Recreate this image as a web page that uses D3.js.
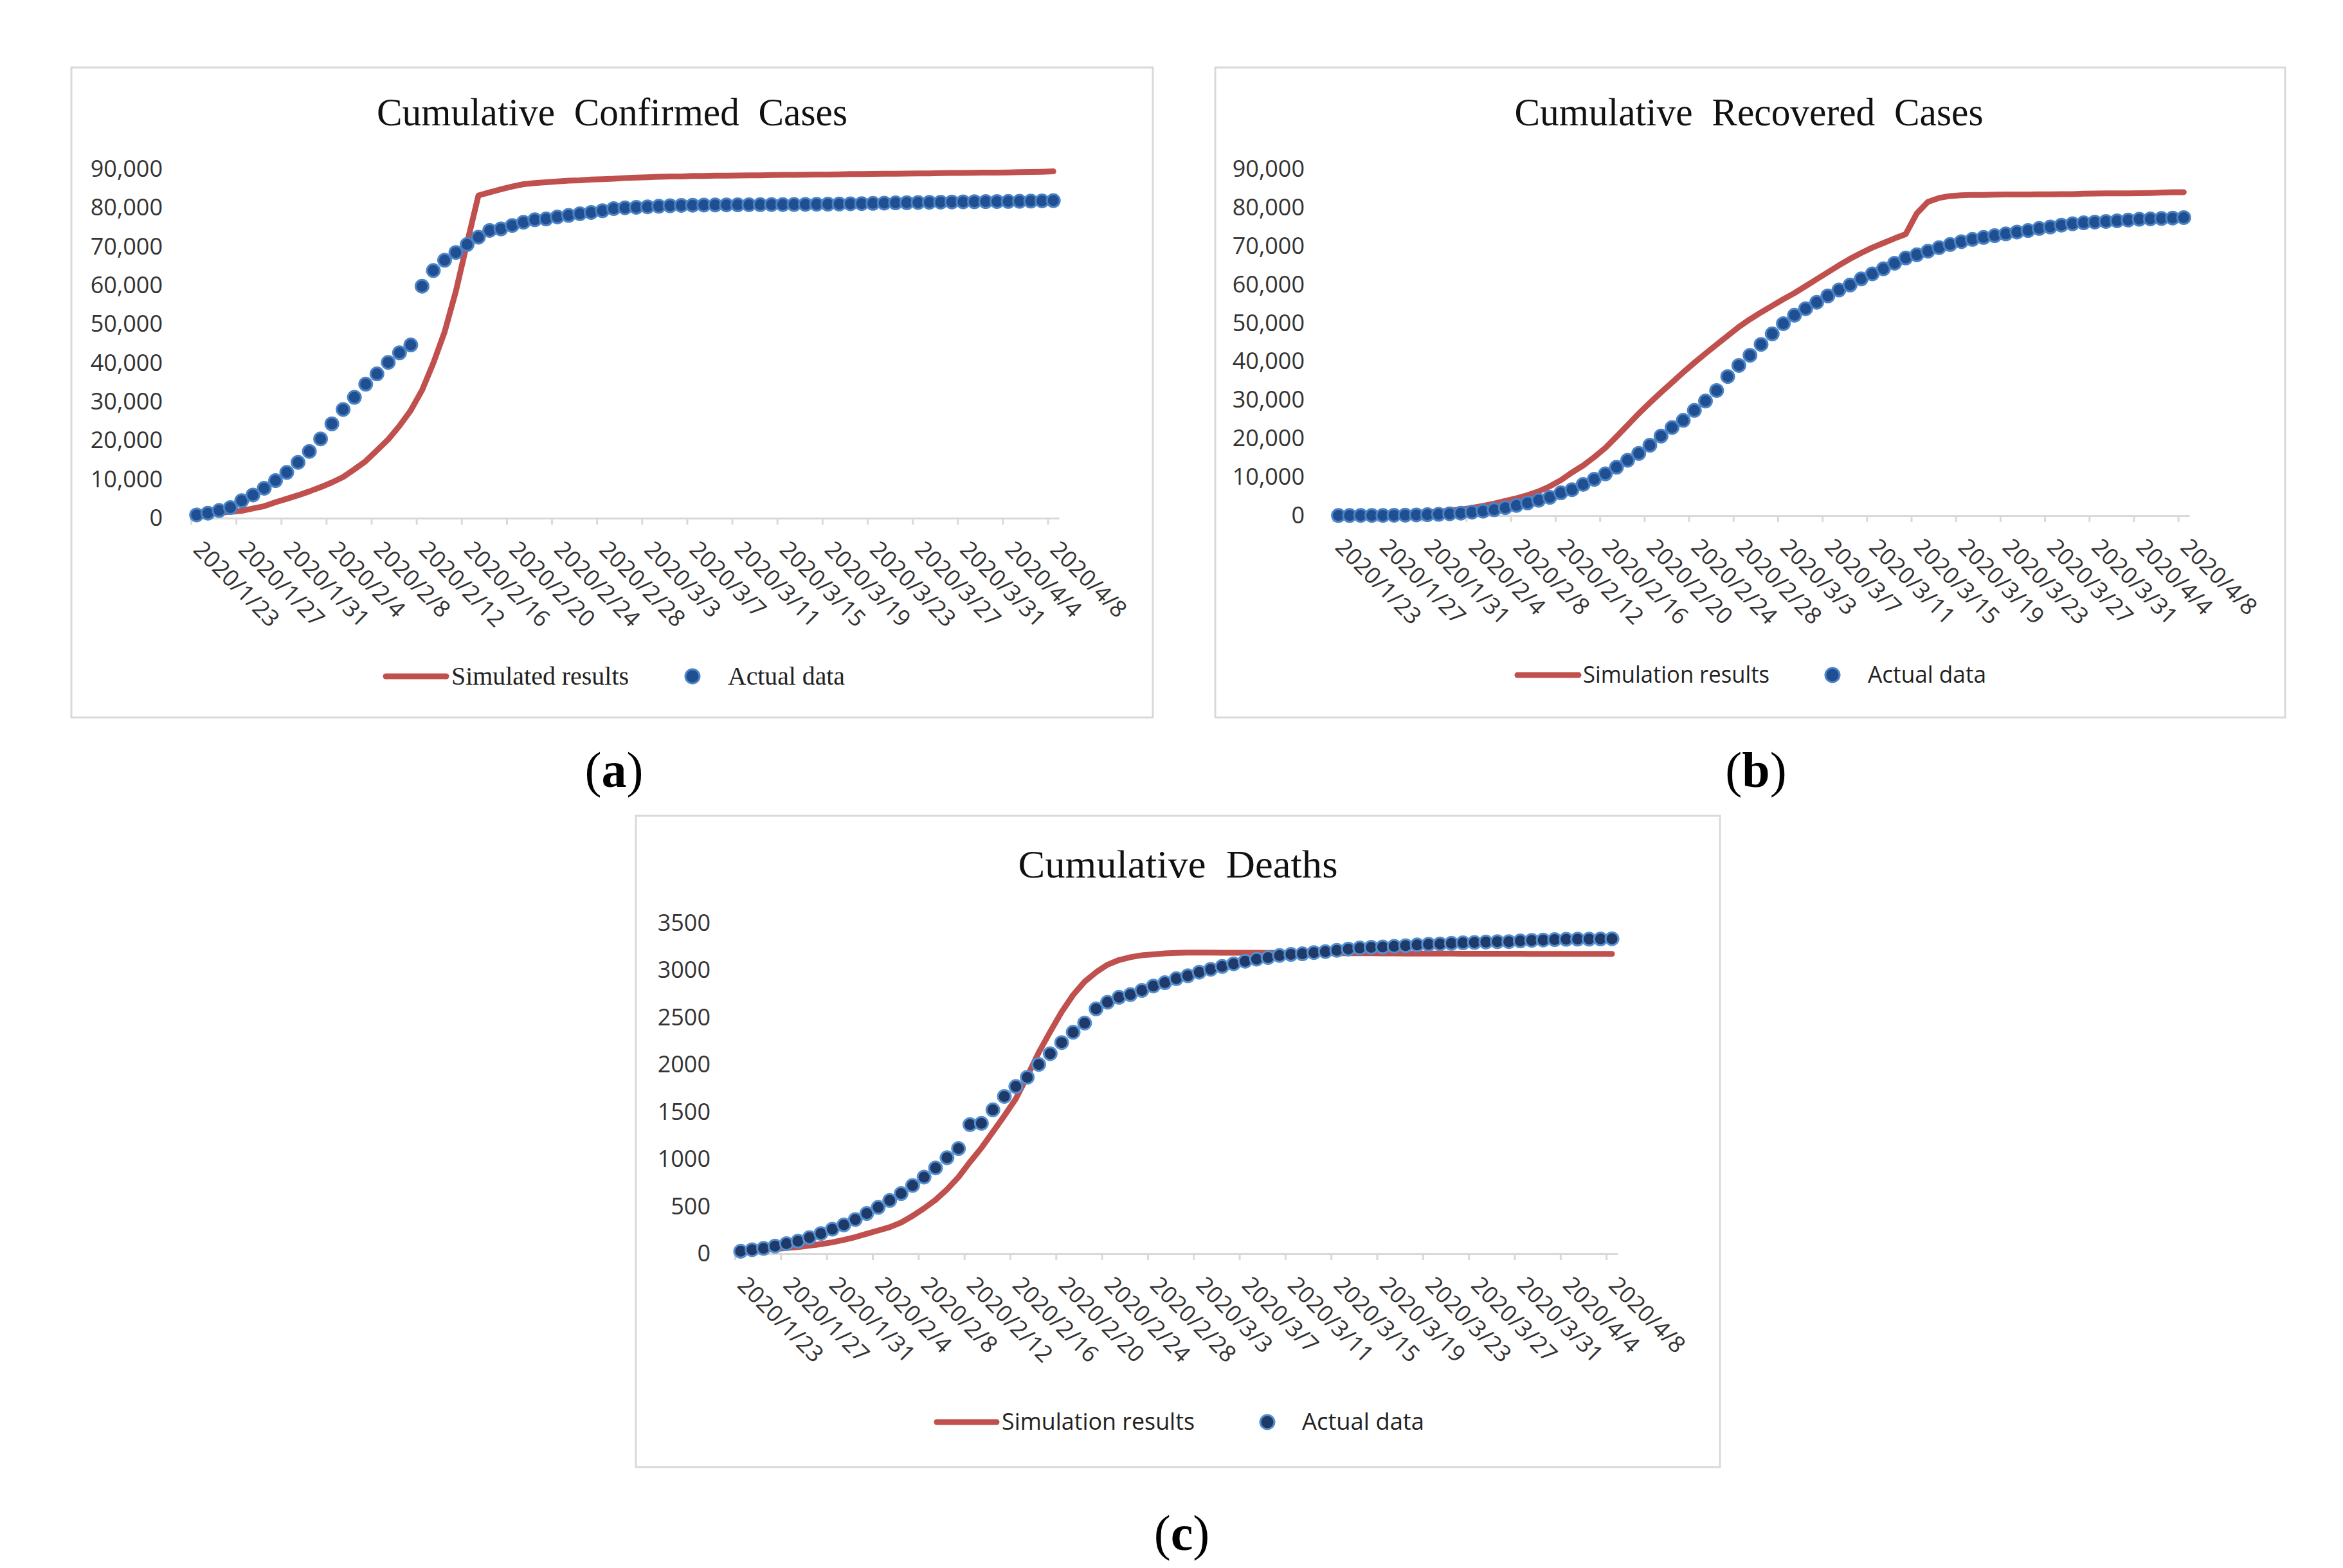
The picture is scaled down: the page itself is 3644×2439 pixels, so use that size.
<!DOCTYPE html>
<html>
<head>
<meta charset="utf-8">
<script src="https://cdn.jsdelivr.net/npm/d3@7"></script>
<style>
  html, body { margin: 0; padding: 0; background: #fff; }
  svg text { white-space: pre; }
</style>
</head>
<body>
<svg id="chart" width="3644" height="2439"></svg>
<script>
// categories: one per day, 2020/1/23 .. 2020/4/8
const days = d3.timeDay.range(new Date(2020, 0, 23), new Date(2020, 3, 9));
const categories = days.map(d3.timeFormat('%Y/%-m/%-d'));

const tickLabels = ['2020/1/23', '2020/1/27', '2020/1/31', '2020/2/4', '2020/2/8', '2020/2/12',
  '2020/2/16', '2020/2/20', '2020/2/24', '2020/2/28', '2020/3/3', '2020/3/7', '2020/3/11',
  '2020/3/15', '2020/3/19', '2020/3/23', '2020/3/27', '2020/3/31', '2020/4/4', '2020/4/8'];

const confirmedActual = [830, 1287, 1975, 2744, 4515, 5974, 7711, 9692, 11791,
  14380, 17205, 20438, 24324, 28018, 31161, 34546, 37198, 40171, 42638, 44653, 59804, 63851,
  66492, 68500, 70548, 72436, 74185, 74576, 75465, 76288, 76936, 77150, 77658, 78064, 78497,
  78824, 79251, 79824,
  80026, 80151, 80270, 80409, 80552, 80651, 80695, 80735, 80754, 80778, 80793, 80813, 80824,
  80844, 80860, 80881, 80894, 80928, 80967, 81008, 81054, 81093, 81171, 81218, 81285, 81340,
  81394, 81439, 81470, 81518, 81554,
  81589, 81620, 81639, 81669, 81708, 81740, 81802, 81865];
const confirmedSim = [830, 1150, 1450, 1600, 1900, 2500, 3100, 4100, 5000, 5900, 6900, 8000,
  9200, 10600, 12600, 14700, 17500, 20300, 23800, 27800, 33000, 40000, 48000, 58500, 71000,
  83200, 84000, 84800, 85500, 86100, 86400, 86600, 86800, 87000, 87100, 87300, 87400, 87500,
  87700, 87800, 87900, 88000, 88100, 88100, 88200, 88200, 88300, 88300, 88350, 88400, 88400,
  88450, 88500, 88500, 88550, 88600, 88600, 88650, 88700, 88700, 88750, 88800, 88800, 88850,
  88900, 88900, 88950, 89000, 89000, 89050, 89100, 89100, 89150, 89200, 89250, 89300, 89400];

const recoveredActual = [34, 38, 49, 51, 60, 103, 124, 171, 243,
  328, 475, 632, 892, 1153, 1540, 2050, 2649, 3281, 3996, 4740, 5911, 6723, 8096, 9419, 10844,
  12552, 14376, 16155, 18264, 20659, 22888, 24734, 27323, 29745, 32495, 36117, 39002, 41625,
  44462, 47204, 49856, 52045, 53726, 55404, 57065, 58600, 59897, 61475, 62793, 64111, 65541,
  66911, 67749, 68679, 69601, 70420, 71150, 71740, 72244, 72703, 73159, 73650, 74051, 74588,
  74971, 75448, 75790, 76052, 76238,
  76408, 76571, 76751, 76964, 77078, 77167, 77279, 77410];
const recoveredSim = [100, 150, 200, 250, 300, 400, 500, 650, 850, 1050, 1300, 1600, 2000,
  2500, 3100, 3800, 4500, 5300, 6300, 7600, 9200, 11200, 13000, 15200, 17600, 20500, 23500,
  26500, 29300, 32000, 34600, 37200, 39700, 42100, 44400, 46700, 49000, 51000, 52800, 54500,
  56200, 57800, 59600, 61400, 63200, 65000, 66700, 68200, 69600, 70800, 72000, 73100, 78500,
  81500, 82500, 83000, 83200, 83300, 83300, 83350, 83400, 83400, 83400, 83450, 83450, 83500,
  83500, 83600, 83650, 83700, 83700, 83700, 83750, 83800, 83900, 84000, 84000];

const deathsActual = [25, 41, 56, 80, 106, 132, 170, 213, 259,
  304, 361, 425, 490, 563, 636, 722, 811, 908, 1016, 1113, 1367, 1380, 1523, 1665, 1770, 1868,
  2004, 2118, 2236, 2345, 2442, 2592, 2663, 2715, 2744, 2788, 2835, 2870,
  2912, 2943, 2981, 3012, 3042, 3070, 3097, 3119, 3136, 3158, 3169, 3176, 3189, 3199, 3213,
  3226, 3237, 3245, 3248, 3255, 3261, 3270, 3277, 3281, 3287, 3292, 3295, 3300, 3304, 3305, 3312,
  3318, 3322, 3326, 3329, 3331, 3331, 3333, 3335];
const deathsSim = [20, 30, 40, 50, 60, 70, 85, 100, 120, 145, 175, 210, 245, 280, 330, 400,
  480, 570, 680, 810, 970, 1120, 1290, 1460, 1640, 1880, 2130, 2350, 2560, 2740, 2880, 2980,
  3060, 3110, 3140, 3160, 3170, 3180, 3185, 3188, 3188, 3188, 3187, 3187, 3186, 3186, 3185,
  3185, 3184, 3184, 3183, 3183, 3182, 3182, 3181, 3181, 3180, 3180, 3179, 3179, 3178, 3178,
  3178, 3177, 3177, 3177, 3176, 3176, 3176, 3175, 3175, 3175, 3175, 3175, 3175, 3175, 3175];

const yTicksCases = [0, 10000, 20000, 30000, 40000, 50000, 60000, 70000, 80000, 90000];
const yTicksDeaths = [0, 500, 1000, 1500, 2000, 2500, 3000, 3500];

const RED = '#c0504d';
const SANS = "'Open Sans', 'Liberation Sans', sans-serif";
const SERIF = "'Liberation Serif', 'Times New Roman', serif";

const panels = [
  {
    letter: 'a', title: 'Cumulative  Confirmed  Cases', simName: 'Simulated results',
    actual: confirmedActual, sim: confirmedSim, yTicks: yTicksCases, fmt: d3.format(','),
    box: [111, 105, 1793, 1116], x0: 297, x1: 1647, y0: 806, y1: 263, pad: 44,
    titleX: 952, titleY: 195, titleLen: 732,
    legFont: SERIF, legSize: 40, legY: 1052, legBase: 1065,
    lineX: [600, 694], text1: [702, 276], dotX: 1077, text2: [1132, 182],
    dotFill: '#1f4f91', dotStroke: '#4b83c6',
    letterX: 955, letterY: 1224
  },
  {
    letter: 'b', title: 'Cumulative  Recovered  Cases', simName: 'Simulation results',
    actual: recoveredActual, sim: recoveredSim, yTicks: yTicksCases, fmt: d3.format(','),
    box: [1890, 105, 3554, 1116], x0: 2073, x1: 3405, y0: 802, y1: 263, pad: 44,
    titleX: 2720, titleY: 195, titleLen: 729,
    legFont: SANS, legSize: 36, legY: 1050, legBase: 1062,
    lineX: [2360, 2455], text1: [2462, 290], dotX: 2850, text2: [2905, 184],
    dotFill: '#1f4f91', dotStroke: '#4b83c6',
    letterX: 2731, letterY: 1224
  },
  {
    letter: 'c', title: 'Cumulative  Deaths', simName: 'Simulation results',
    actual: deathsActual, sim: deathsSim, yTicks: yTicksDeaths, fmt: d3.format('d'),
    box: [989, 1269, 2675, 2282], x0: 1143, x1: 2516, y0: 1950, y1: 1436, pad: 38,
    titleX: 1832, titleY: 1365, titleLen: 497,
    legFont: SANS, legSize: 36, legY: 2212, legBase: 2224,
    lineX: [1457, 1550], text1: [1558, 300], dotX: 1971, text2: [2025, 190],
    dotFill: '#1f3a68', dotStroke: '#5590d0',
    letterX: 1838, letterY: 2411
  }
];

const svg = d3.select('#chart');
svg.append('rect').attr('width', 3644).attr('height', 2439).attr('fill', '#fff');

panels.forEach((p) => {
  const g = svg.append('g');

  // chart frame
  g.append('rect')
    .attr('x', p.box[0]).attr('y', p.box[1])
    .attr('width', p.box[2] - p.box[0]).attr('height', p.box[3] - p.box[1])
    .attr('fill', '#fff').attr('stroke', '#d9d9d9').attr('stroke-width', 3);

  g.append('text')
    .attr('x', p.titleX).attr('y', p.titleY)
    .attr('text-anchor', 'middle')
    .attr('font-family', SERIF).attr('font-size', 62).attr('fill', '#111')
    .attr('textLength', p.titleLen).attr('lengthAdjust', 'spacingAndGlyphs')
    .text(p.title);

  const x = d3.scaleBand().domain(categories).range([p.x0, p.x1]).padding(0);
  const xi = d3.scaleLinear().domain([0, categories.length]).range([p.x0, p.x1]);
  const y = d3.scaleLinear().domain([0, d3.max(p.yTicks)]).range([p.y0, p.y1]);
  const cx = (i) => x(categories[i]) + x.bandwidth() / 2;

  // y labels (no axis line)
  const yAxis = g.append('g')
    .attr('transform', `translate(${p.x0},0)`)
    .call(d3.axisLeft(y).tickValues(p.yTicks).tickSize(0).tickPadding(p.pad).tickFormat(p.fmt));
  yAxis.select('.domain').remove();
  yAxis.selectAll('text')
    .attr('font-family', SANS).attr('font-size', 36).attr('fill', '#333');

  // x axis: ticks every 4 categories, between categories
  const xAxis = g.append('g')
    .attr('transform', `translate(0,${p.y0})`)
    .call(d3.axisBottom(xi).tickValues(d3.range(0, categories.length, 4))
      .tickSize(10).tickSizeOuter(0).tickFormat(''));
  xAxis.select('.domain').attr('stroke', '#d9d9d9').attr('stroke-width', 3);
  xAxis.selectAll('.tick line').attr('stroke', '#d9d9d9').attr('stroke-width', 3);

  g.append('g').selectAll('text')
    .data(tickLabels)
    .join('text')
      .attr('transform', (d) => {
        const i = categories.indexOf(d);
        return `translate(${cx(i) - 7},${p.y0 + 51}) rotate(45)`;
      })
      .attr('font-family', SANS).attr('font-size', 36).attr('fill', '#333')
      .text(d => d);

  // simulated line
  const line = d3.line().x((d, i) => cx(i)).y(d => y(d));
  g.append('path')
    .datum(p.sim)
    .attr('d', line)
    .attr('fill', 'none').attr('stroke', RED).attr('stroke-width', 9)
    .attr('stroke-linejoin', 'round').attr('stroke-linecap', 'round');

  // actual data markers
  g.append('g').selectAll('circle')
    .data(p.actual)
    .join('circle')
      .attr('cx', (d, i) => cx(i))
      .attr('cy', d => y(d))
      .attr('r', 10)
      .attr('fill', p.dotFill).attr('stroke', p.dotStroke).attr('stroke-width', 3);

  // legend
  g.append('line')
    .attr('x1', p.lineX[0]).attr('x2', p.lineX[1])
    .attr('y1', p.legY).attr('y2', p.legY)
    .attr('stroke', RED).attr('stroke-width', 9).attr('stroke-linecap', 'round');
  g.append('text')
    .attr('x', p.text1[0]).attr('y', p.legBase)
    .attr('font-family', p.legFont).attr('font-size', p.legSize).attr('fill', '#222')
    .attr('textLength', p.text1[1]).attr('lengthAdjust', 'spacingAndGlyphs')
    .text(p.simName);
  g.append('circle')
    .attr('cx', p.dotX).attr('cy', p.legY).attr('r', 11)
    .attr('fill', p.dotFill).attr('stroke', p.dotStroke).attr('stroke-width', 3);
  g.append('text')
    .attr('x', p.text2[0]).attr('y', p.legBase)
    .attr('font-family', p.legFont).attr('font-size', p.legSize).attr('fill', '#222')
    .attr('textLength', p.text2[1]).attr('lengthAdjust', 'spacingAndGlyphs')
    .text('Actual data');

  // panel letter
  const lt = svg.append('text')
    .attr('x', p.letterX).attr('y', p.letterY)
    .attr('text-anchor', 'middle')
    .attr('font-family', SERIF).attr('font-size', 78).attr('fill', '#000');
  lt.append('tspan').text('(');
  lt.append('tspan').attr('font-weight', 'bold').text(p.letter);
  lt.append('tspan').text(')');
});
</script>
</body>
</html>
